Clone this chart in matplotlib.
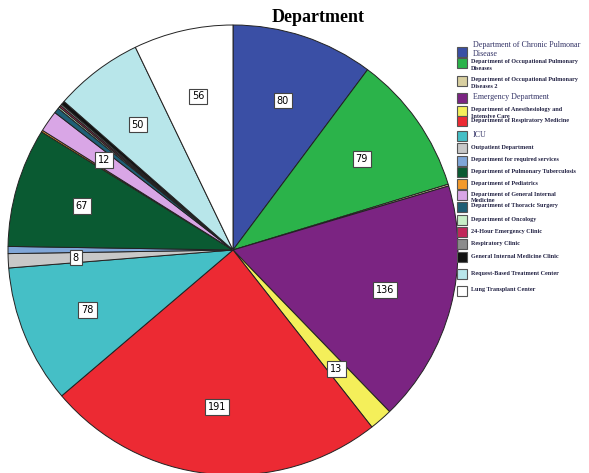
import matplotlib.pyplot as plt
import numpy as np
from matplotlib.patches import Rectangle

departments = [
    "Department of Chronic Pulmonar\nDisease",
    "Department of Occupational Pulmonary\nDiseases",
    "Department of Occupational Pulmonary\nDiseases 2",
    "Emergency Department",
    "Department of Anesthesiology and\nIntensive Care",
    "Department of Respiratory Medicine",
    "ICU",
    "Outpatient Department",
    "Department for required services",
    "Department of Pulmonary Tuberculosis",
    "Department of Pediatrics",
    "Department of General Internal\nMedicine",
    "Department of Thoracic Surgery",
    "Department of Oncology",
    "24-Hour Emergency Clinic",
    "Respiratory Clinic",
    "General Internal Medicine Clinic",
    "Request-Based Treatment Center",
    "Lung Transplant Center",
]
counts = [80, 79, 1, 136, 13, 191, 78, 8, 4, 67, 1, 12, 3, 1, 1, 1, 2, 50, 56]
shown = [80, 79, 136, 13, 191, 78, 8, 67, 12, 50, 56]
colors = [
    "#3a4fa5", "#2bb34a", "#d8cfa0", "#7b2482", "#f4ef5a", "#ec2a33",
    "#45bfc6", "#c8c8c8", "#7fa6d8", "#0a5a32", "#f39a2c", "#d9a6e6",
    "#1e5f75", "#c8f0c8", "#c0285a", "#8c8c8c", "#111111", "#b8e6ea",
    "#ffffff",
]
# entradas em fonte normal (maior) na legenda original
plain_entries = [0, 3, 6]

W, H = 589, 473
fig = plt.figure(figsize=(W / 100, H / 100), dpi=100)
ax = fig.add_axes([8 / W, -2 / H, 450 / W, 450 / H])
wedges, _ = ax.pie(
    counts,
    colors=colors,
    startangle=90,
    counterclock=False,
    radius=1.0,
    wedgeprops=dict(edgecolor="#222222", linewidth=0.7),
)
ax.set_xlim(-1, 1)
ax.set_ylim(-1, 1)
ax.set_aspect("equal")

for w, n in zip(wedges, counts):
    if n not in shown:
        continue
    ang = np.deg2rad((w.theta1 + w.theta2) / 2)
    r = 0.7
    ax.text(
        r * np.cos(ang), r * np.sin(ang), str(n),
        ha="center", va="center", fontsize=7, family="DejaVu Sans",
        bbox=dict(boxstyle="square,pad=0.3", fc="white", ec="#444444", lw=0.8),
    )

fig.text(318 / W, 1 - 18 / H, "Department", ha="center", va="center",
         fontsize=13, fontweight="bold", family="Liberation Serif")

# legenda desenhada à mão (espaçamento irregular como no original)
y_handles = [52, 63, 81, 98, 111, 121, 136, 148, 161, 172, 184, 195,
             207, 220, 232, 244, 257, 274, 291]
hx, hw, hh = 457, 10, 10
for i, (lab, col, yc) in enumerate(zip(departments, colors, y_handles)):
    fig.patches.append(Rectangle(
        (hx / W, 1 - (yc + hh / 2) / H), hw / W, hh / H,
        transform=fig.transFigure, fc=col, ec="#555555", lw=0.8,
    ))
    if i in plain_entries:
        ytxt = yc - 11 if "\n" in lab else yc - 5
        fig.text(473 / W, 1 - ytxt / H, lab, ha="left", va="top",
                 fontsize=5.8, family="Liberation Serif", color="#333366",
                 linespacing=1.15)
    else:
        fig.text(471 / W, 1 - (yc - 3.5) / H, lab, ha="left", va="top",
                 fontsize=4.4, fontweight="bold", family="Liberation Serif",
                 color="#222244", linespacing=1.3)

fig.savefig("out.png", dpi=100)
